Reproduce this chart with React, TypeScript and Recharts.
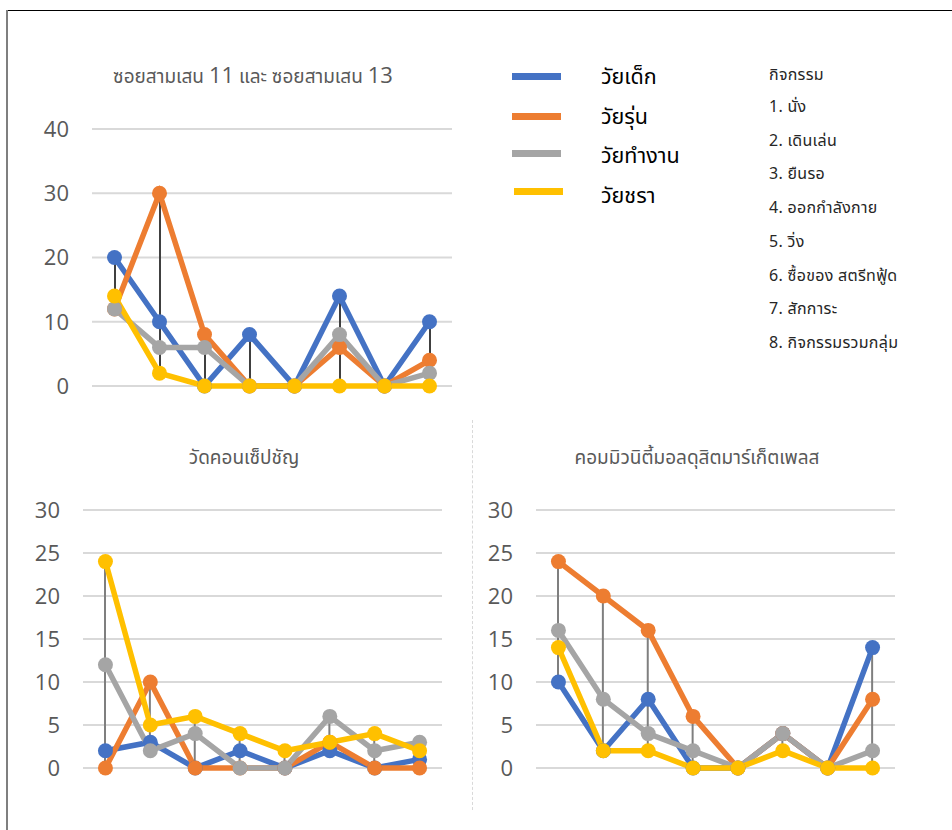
import React from "react";
import { ComposedChart, Line, Bar, XAxis, YAxis, CartesianGrid } from "recharts";

// ช่วงวัย (series) และสี
const SERIES_KEYS = ["child", "teen", "working", "elder"];
const SERIES_NAMES = ["วัยเด็ก", "วัยรุ่น", "วัยทำงาน", "วัยชรา"];
const SERIES_COLORS = ["#4472C4", "#ED7D31", "#A5A5A5", "#FFC000"];

// กิจกรรม 1-8
const CATEGORIES = ["1", "2", "3", "4", "5", "6", "7", "8"];
const ACTIVITIES = [
  "1. นั่ง",
  "2. เดินเล่น",
  "3. ยืนรอ",
  "4. ออกกำลังกาย",
  "5. วิ่ง",
  "6. ซื้อของ สตรีทฟู้ด",
  "7. สักการะ",
  "8. กิจกรรมรวมกลุ่ม",
];

// ซอยสามเสน 11 และ ซอยสามเสน 13
const samsenChild = [20, 10, 0, 8, 0, 14, 0, 10];
const samsenTeen = [12, 30, 8, 0, 0, 6, 0, 4];
const samsenWorking = [12, 6, 6, 0, 0, 8, 0, 2];
const samsenElder = [14, 2, 0, 0, 0, 0, 0, 0];
const samsenTicks = [0, 10, 20, 30, 40];

// วัดคอนเซ็ปชัญ
const watChild = [2, 3, 0, 2, 0, 2, 0, 1];
const watTeen = [0, 10, 0, 0, 0, 3, 0, 0];
const watWorking = [12, 2, 4, 0, 0, 6, 2, 3];
const watElder = [24, 5, 6, 4, 2, 3, 4, 2];

// คอมมิวนิตี้มอลดุสิตมาร์เก็ตเพลส
const mallChild = [10, 2, 8, 0, 0, 4, 0, 14];
const mallTeen = [24, 20, 16, 6, 0, 4, 0, 8];
const mallWorking = [16, 8, 4, 2, 0, 4, 0, 2];
const mallElder = [14, 2, 2, 0, 0, 2, 0, 0];
const smallTicks = [0, 5, 10, 15, 20, 25, 30];

const THAI_FONT = "Tahoma, 'Leelawadee UI', 'Noto Sans Thai', 'Noto Sans', 'DejaVu Sans', sans-serif";
const NUM_FONT = "'Open Sans', 'Noto Sans', sans-serif";

function buildRows(series: number[][]) {
  return CATEGORIES.map((act, i) => {
    const row: any = { act };
    const vals = series.map((s) => s[i]);
    SERIES_KEYS.forEach((k, j) => (row[k] = vals[j]));
    // เส้น high-low
    row.range = [Math.min(...vals), Math.max(...vals)];
    return row;
  });
}

interface PanelProps {
  rows: any[];
  ticks: number[];
  width: number;
  height: number;
  yWidth: number;
  margin: { top: number; right: number; bottom: number; left: number };
  hlColor: string;
}

function Panel({ rows, ticks, width, height, yWidth, margin, hlColor }: PanelProps) {
  return (
    <ComposedChart width={width} height={height} data={rows} margin={margin}>
      <CartesianGrid horizontal vertical={false} stroke="#D9D9D9" strokeWidth={2} />
      <XAxis dataKey="act" hide />
      <YAxis
        domain={[ticks[0], ticks[ticks.length - 1]]}
        ticks={ticks}
        width={yWidth}
        axisLine={false}
        tickLine={false}
        tickSize={0}
        tickMargin={23}
        interval={0}
        tick={{ fontSize: 22, fill: "#595959", fontFamily: NUM_FONT }}
      />
      {SERIES_KEYS.map((k, i) => (
        <Line
          key={k}
          type="linear"
          dataKey={k}
          stroke={SERIES_COLORS[i]}
          strokeWidth={5.5}
          dot={{ r: 7.5, fill: SERIES_COLORS[i], stroke: "none" }}
          activeDot={false}
          isAnimationActive={false}
        />
      ))}
      <Bar dataKey="range" barSize={2} fill={hlColor} isAnimationActive={false} />
    </ComposedChart>
  );
}

const titleStyle: React.CSSProperties = {
  position: "absolute",
  color: "#595959",
  fontFamily: THAI_FONT,
  fontSize: 19,
  whiteSpace: "nowrap",
  transform: "translate(-50%, -50%)",
};

const listStyle: React.CSSProperties = {
  position: "absolute",
  left: 769,
  transform: "translateY(-50%)",
  fontFamily: THAI_FONT,
  fontSize: 16,
  letterSpacing: 0.3,
  color: "#262626",
  whiteSpace: "nowrap",
};

export default function App() {
  const samsenRows = buildRows([samsenChild, samsenTeen, samsenWorking, samsenElder]);
  const watRows = buildRows([watChild, watTeen, watWorking, watElder]);
  const mallRows = buildRows([mallChild, mallTeen, mallWorking, mallElder]);

  return (
    <div
      style={{
        position: "absolute",
        left: 0,
        top: 0,
        width: 952,
        height: 830,
        overflow: "hidden",
        background: "#fff",
      }}
    >
      {/* กรอบ */}
      <div style={{ position: "absolute", left: 6, top: 10, width: 946, height: 1, background: "#000", zIndex: 5 }} />
      <div style={{ position: "absolute", left: 6, top: 10, width: 2, height: 820, background: "#7F7F7F", zIndex: 5 }} />
      <div style={{ position: "absolute", left: 472, top: 420, height: 390, borderLeft: "1px dashed #d9d9d9" }} />

      {/* กราฟ 1 */}
      <div style={{ ...titleStyle, left: 253, top: 75 }}>
        ซอยสามเสน <span style={{ fontSize: 22, fontFamily: NUM_FONT }}>11</span> และ ซอยสามเสน{" "}
        <span style={{ fontSize: 22, fontFamily: NUM_FONT }}>13</span>
      </div>
      <div style={{ position: "absolute", left: 20, top: 110 }}>
        <Panel
          rows={samsenRows}
          ticks={samsenTicks}
          width={442}
          height={290}
          yWidth={72}
          margin={{ top: 19, right: 10, bottom: 14, left: 0 }}
          hlColor="#404040"
        />
      </div>

      {/* คำอธิบายสัญลักษณ์ */}
      {SERIES_NAMES.map((name, i) => (
        <React.Fragment key={name}>
          <div
            style={{
              position: "absolute",
              left: 512 + (i === 3 ? 2 : 0),
              top: [76, 116, 153, 191][i] - 3.5,
              width: 49,
              height: 7,
              background: SERIES_COLORS[i],
            }}
          />
          <div
            style={{
              position: "absolute",
              left: 601,
              top: [77, 117, 156, 196][i],
              transform: "translateY(-50%)",
              fontFamily: THAI_FONT,
              fontSize: 21.5,
              color: "#000",
              whiteSpace: "nowrap",
            }}
          >
            {name}
          </div>
        </React.Fragment>
      ))}

      {/* รายการกิจกรรม */}
      <div style={{ ...listStyle, top: 75 }}>กิจกรรม</div>
      {ACTIVITIES.map((a, i) => (
        <div key={a} style={{ ...listStyle, top: 107 + i * 33.7 }}>
          {a}
        </div>
      ))}

      {/* กราฟ 2 */}
      <div style={{ ...titleStyle, left: 244, top: 458 }}>วัดคอนเซ็ปชัญ</div>
      <div style={{ position: "absolute", left: 20, top: 490 }}>
        <Panel
          rows={watRows}
          ticks={smallTicks}
          width={432}
          height={300}
          yWidth={63}
          margin={{ top: 20, right: 10, bottom: 22, left: 0 }}
          hlColor="#7F7F7F"
        />
      </div>

      {/* กราฟ 3 */}
      <div style={{ ...titleStyle, left: 697, top: 458 }}>คอมมิวนิตี้มอลดุสิตมาร์เก็ตเพลส</div>
      <div style={{ position: "absolute", left: 470, top: 490 }}>
        <Panel
          rows={mallRows}
          ticks={smallTicks}
          width={435}
          height={300}
          yWidth={66}
          margin={{ top: 20, right: 10, bottom: 22, left: 0 }}
          hlColor="#7F7F7F"
        />
      </div>
    </div>
  );
}
